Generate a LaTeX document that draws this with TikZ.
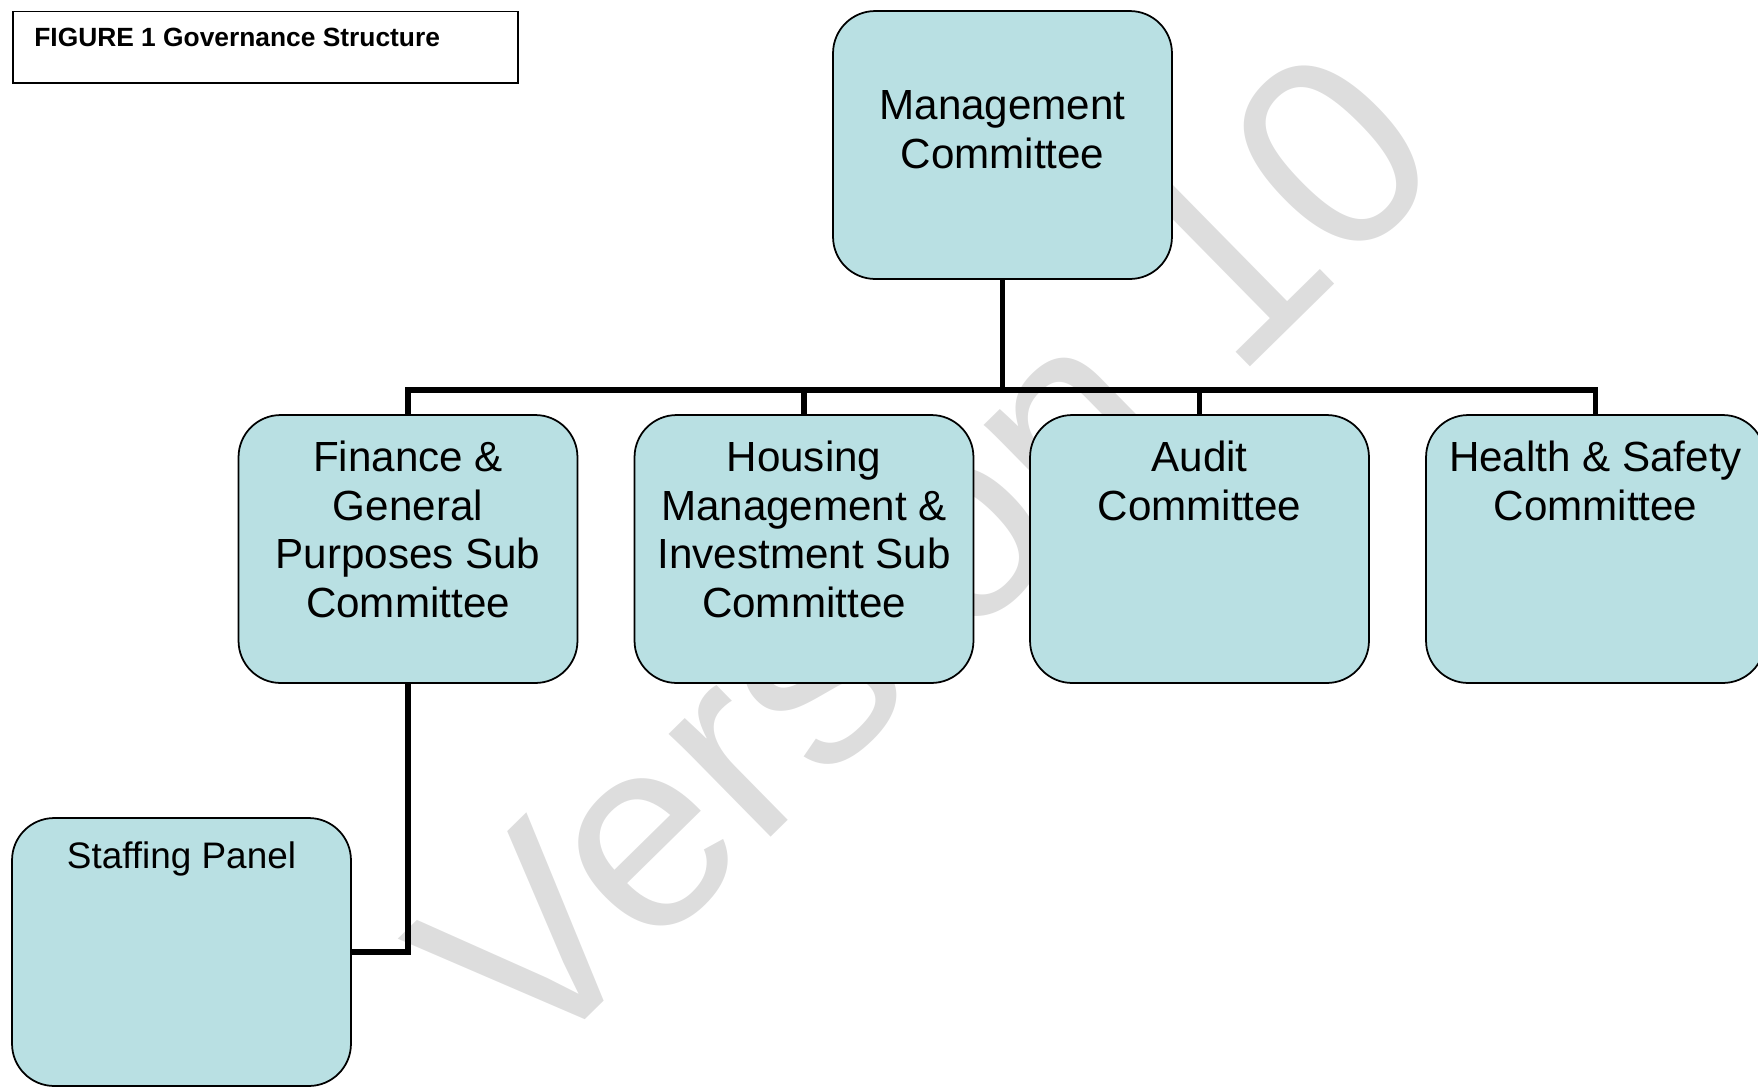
\documentclass[tikz,border=0pt]{standalone}
\usepackage{fontspec}
\setmainfont{Liberation Sans}
\definecolor{cbfill}{RGB}{185,224,227}
\definecolor{wmgray}{RGB}{221,221,221}
\tikzset{cb/.append style={draw,fill=cbfill,rounded corners=24pt,line width=1pt,minimum width=6.78cm,minimum height=5.36cm,inner sep=0pt}}
\tikzset{ct/.append style={anchor=north,align=center,inner sep=0pt,font=\fontsize{24}{27.6}\selectfont}}
\tikzset{ln/.append style={line width=3.2pt}}

\begin{document}
\begin{tikzpicture}[x=0.02cm,y=-0.02cm]
                \useasboundingbox (0,0) rectangle (1758,1086);
                % watermark behind everything
                \node[rotate=44.5,anchor=base,inner sep=0pt,text=wmgray,font=\fontsize{156}{160}\selectfont] (wm) at (991,621) {Version 10};
                % caption box
                \node[draw,line width=1pt,anchor=north west,minimum width=10.1cm,minimum height=1.44cm,inner sep=0pt] (capbox) at (12,10.5) {};
                \node[anchor=base west,inner sep=0pt,font=\fontsize{15}{18}\selectfont\bfseries] (cap) at (34,46.5) {FIGURE 1 Governance Structure};
                % committees
                \node[cb] (mgmt) at (1002.5,145) {};
                \node[cb] (fin) at (408,549) {};
                \node[cb] (hmi) at (804,549) {};
                \node[cb] (aud) at (1199.5,549) {};
                \node[cb] (hs) at (1595.5,549) {};
                \node[cb] (staff) at (181.5,952) {};
                \node[ct] (mgmt-t) at (1002.5,90.5) {Management\\Committee};
                \node[ct] (fin-t) at (408,441) {Finance \&\\General\\Purposes Sub\\Committee};
                \node[ct] (hmi-t) at (804,441) {Housing\\Management \&\\Investment Sub\\Committee};
                \node[ct] (aud-t) at (1199.5,441) {Audit\\Committee};
                \node[ct] (hs-t) at (1595.5,441) {Health \& Safety\\Committee};
                \node[ct,font=\fontsize{21}{24}\selectfont] (staff-t) at (181.5,841.5) {Staffing Panel};
                % lines
                \coordinate (bus) at (1002.5,390);
                \draw[ln] (mgmt.south) -- (bus);
                \draw[ln] (fin.north) |- (bus) -| (hs.north);
                \draw[ln] (hmi.north) -- (hmi.north |- bus);
                \draw[ln] (aud.north) -- (aud.north |- bus);
                \draw[ln] (fin.south) |- (staff.east);
            \end{tikzpicture}
\end{document}
